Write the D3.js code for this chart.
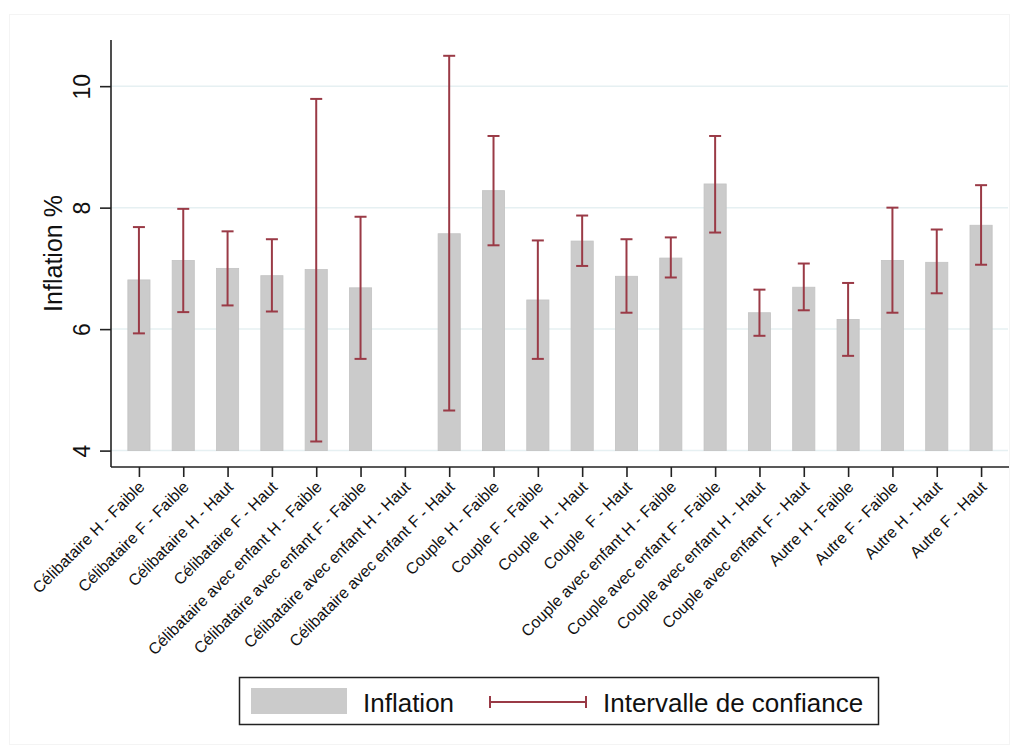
<!DOCTYPE html>
<html>
<head>
<meta charset="utf-8">
<script src="https://cdn.jsdelivr.net/npm/d3@7"></script>
<style>
  html, body { margin: 0; padding: 0; background: #fff; }
  svg { display: block; font-family: "Liberation Sans", Arial, sans-serif; }
  .xlab { white-space: pre; }
</style>
</head>
<body>
<svg id="chart" width="1017" height="753"></svg>
<script>
const categories = [
  "Célibataire H - Faible", "Célibataire F - Faible", "Célibataire H - Haut", "Célibataire F - Haut",
  "Célibataire avec enfant H - Faible", "Célibataire avec enfant F - Faible",
  "Célibataire avec enfant H - Haut", "Célibataire avec enfant F - Haut",
  "Couple H - Faible", "Couple F - Faible", "Couple  H - Haut", "Couple  F - Haut",
  "Couple avec enfant H - Faible", "Couple avec enfant F - Faible",
  "Couple avec enfant H - Haut", "Couple avec enfant F - Haut",
  "Autre H - Faible", "Autre F - Faible", "Autre H - Haut", "Autre F - Haut"
];
const inflation = [6.81, 7.13, 7.00, 6.88, 6.98, 6.68, null, 7.57, 8.28, 6.48, 7.45, 6.87, 7.17, 8.39, 6.27, 6.69, 6.16, 7.13, 7.10, 7.71];
const ciHigh    = [7.68, 7.98, 7.61, 7.48, 9.79, 7.85, null, 10.50, 9.18, 7.46, 7.87, 7.48, 7.51, 9.18, 6.65, 7.08, 6.76, 8.00, 7.64, 8.37];
const ciLow     = [5.93, 6.28, 6.39, 6.29, 4.15, 5.51, null, 4.66, 7.38, 5.51, 7.04, 6.27, 6.85, 7.59, 5.89, 6.31, 5.56, 6.27, 6.59, 7.06];
const yTicks = [4, 6, 8, 10];
const yLabel = "Inflation %";
const legendLabels = ["Inflation", "Intervalle de confiance"];

const barColor = "#cbcbcb";
const ciColor = "#9a3a46";
const axisColor = "#222";
const gridColor = "#e6f0f2";

const svg = d3.select("#chart");
const L = 111, R = 1009, T = 40, B = 467;

// faint outer frame
svg.append("rect").attr("x", 9.5).attr("y", 14.5).attr("width", 1000).attr("height", 730)
  .attr("fill", "none").attr("stroke", "#f4f4f4");

const x = d3.scalePoint().domain(categories).range([L, R]).padding(0.63);
const y = d3.scaleLinear().domain([3.73, 10.76]).range([B, T]);
const bw = x.step() * 0.5;

// grid
svg.append("g").selectAll("line").data(yTicks).join("line")
  .attr("x1", L).attr("x2", R - 1).attr("y1", d => y(d)).attr("y2", d => y(d))
  .attr("stroke", gridColor).attr("stroke-width", 1.5);

const data = categories.map((c, i) => ({ c, v: inflation[i], lo: ciLow[i], hi: ciHigh[i] }));

// bars
svg.append("g").selectAll("rect").data(data.filter(d => d.v != null)).join("rect")
  .attr("x", d => x(d.c) - bw / 2).attr("width", bw)
  .attr("y", d => y(d.v)).attr("height", d => y(4) - y(d.v))
  .attr("fill", barColor).attr("stroke", "#c3c3c3").attr("stroke-width", 0.8);

// CI
const cap = 6;
const ci = svg.append("g").attr("stroke", ciColor).attr("stroke-width", 2).attr("fill", "none");
const ciData = data.filter(d => d.lo != null);
ci.selectAll("line.v").data(ciData).join("line").attr("class", "v")
  .attr("x1", d => x(d.c)).attr("x2", d => x(d.c)).attr("y1", d => y(d.lo)).attr("y2", d => y(d.hi));
ci.selectAll("line.t").data(ciData).join("line").attr("class", "t")
  .attr("x1", d => x(d.c) - cap).attr("x2", d => x(d.c) + cap).attr("y1", d => y(d.hi)).attr("y2", d => y(d.hi));
ci.selectAll("line.b").data(ciData).join("line").attr("class", "b")
  .attr("x1", d => x(d.c) - cap).attr("x2", d => x(d.c) + cap).attr("y1", d => y(d.lo)).attr("y2", d => y(d.lo));

// y axis
const yAxis = svg.append("g").attr("transform", `translate(${L},0)`)
  .call(d3.axisLeft(y).tickValues(yTicks).tickSize(11).tickSizeOuter(0).tickFormat(d3.format("d")));
yAxis.select(".domain").attr("stroke", axisColor).attr("stroke-width", 1.6).attr("d", `M0,${T}V${B}`);
yAxis.selectAll(".tick line").attr("stroke", axisColor).attr("stroke-width", 1.6);
yAxis.selectAll(".tick text")
  .attr("x", 0).attr("y", 0).attr("dy", 0)
  .attr("transform", `translate(-21,0) rotate(-90)`)
  .attr("text-anchor", "middle")
  .attr("font-size", 23).attr("fill", "#111");

svg.append("text").text(yLabel)
  .attr("transform", `translate(62,${(T + B) / 2}) rotate(-90)`)
  .attr("text-anchor", "middle").attr("font-size", 25).attr("fill", "#111");

// x axis
const xAxis = svg.append("g").attr("transform", `translate(0,${B})`)
  .call(d3.axisBottom(x).tickSize(10).tickSizeOuter(0));
xAxis.select(".domain").attr("stroke", axisColor).attr("stroke-width", 1.6).attr("d", `M${L},0H${R}`);
xAxis.selectAll(".tick line").attr("stroke", axisColor).attr("stroke-width", 1.6);
xAxis.selectAll(".tick text")
  .attr("class", "xlab")
  .attr("x", 0).attr("y", 0).attr("dy", 0)
  .attr("transform", "translate(6,21) rotate(-45)")
  .attr("text-anchor", "end")
  .attr("font-size", 16).attr("fill", "#111");

// legend
const lg = svg.append("g");
lg.append("rect").attr("x", 239.5).attr("y", 677.5).attr("width", 639).attr("height", 47)
  .attr("fill", "#fff").attr("stroke", axisColor).attr("stroke-width", 1.5);
lg.append("rect").attr("x", 251).attr("y", 688).attr("width", 96).attr("height", 26).attr("fill", barColor);
lg.append("text").text(legendLabels[0]).attr("x", 363).attr("y", 712).attr("font-size", 26).attr("fill", "#111");
const lci = lg.append("g").attr("stroke", ciColor).attr("stroke-width", 2);
lci.append("line").attr("x1", 489).attr("x2", 587).attr("y1", 702).attr("y2", 702);
lci.append("line").attr("x1", 490).attr("x2", 490).attr("y1", 696).attr("y2", 708);
lci.append("line").attr("x1", 586).attr("x2", 586).attr("y1", 696).attr("y2", 708);
lg.append("text").text(legendLabels[1]).attr("x", 603).attr("y", 712).attr("font-size", 26).attr("fill", "#111");
</script>
</body>
</html>
